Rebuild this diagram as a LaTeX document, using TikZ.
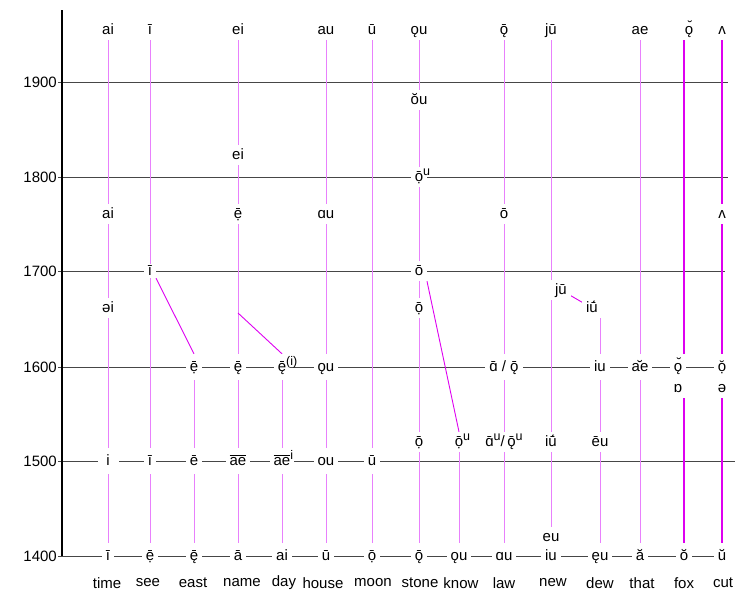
\documentclass[tikz,border=0pt]{standalone}
\usepackage{fontspec}
\setmainfont{Liberation Sans}
\usetikzlibrary{backgrounds}
\definecolor{vlt}{RGB}{232,128,252}
\definecolor{mag}{RGB}{222,0,240}
\definecolor{gridc}{RGB}{70,70,70}
\newcommand\ovl[1]{\ensuremath{\overline{\mbox{#1}}}}
\newcommand\brv[1]{\setbox0\hbox{#1}\rlap{\makebox[\wd0]{˘}}\box0}
\newcommand\supx[1]{\raisebox{5.5pt}{\fontsize{12.5}{13}\selectfont #1}}
\newcommand\sups[1]{\rlap{\supx{#1}}}
\tikzset{
  lab/.style={fill=white, inner xsep=4pt, inner ysep=3pt, text height=11pt, text depth=3pt},
  rl/.style={lab, inner ysep=6pt},
  vl/.style={draw=vlt, line width=1pt},
  vb/.style={draw=mag, line width=1.5pt},
  dg/.style={draw=mag, line width=0.9pt},
  gl/.style={draw=gridc, line width=0.8pt},
  word/.style={inner sep=0pt},
  yr/.style={anchor=east, inner sep=0pt}
}
\begin{document}
\begin{tikzpicture}[x=1pt,y=-1pt,font=\fontsize{15}{18}\selectfont]
\useasboundingbox (0,0) rectangle (756,600);
% years
\node[yr] (y19) at (57,82) {1900};
\node[yr] (y18) at (57,177) {1800};
\node[yr] (y17) at (57,271) {1700};
\node[yr] (y16) at (57,367) {1600};
\node[yr] (y15) at (57,461) {1500};
\node[yr] (y14) at (57,556) {1400};
\coordinate (axT) at (62,10);
\coordinate (axB) at (62,556);
\coordinate (g19s) at (58,82);  \coordinate (g19e) at (728,82);
\coordinate (g18s) at (58,177); \coordinate (g18e) at (728,177);
\coordinate (g17s) at (58,271); \coordinate (g17e) at (725,271);
\coordinate (g16s) at (58,367);
\coordinate (g15s) at (58,461); \coordinate (g15e) at (735,461);
\coordinate (g14s) at (58,556);
% time
\node[lab] (ti0) at (108,30) {ai};
\node[lab] (ti1) at (108,214) {ai};
\node[lab] (ti2) at (108,308) {əi};
\node[rl, minimum width=21pt] (ti15) at (108,461) {i};
\node[rl] (ti14) at (108,556) {ī};
% see
\node[lab] (se0) at (150,30) {ī};
\node[lab, inner ysep=0pt] (se17) at (150,271) {ī};
\node[rl] (se15) at (150,461) {ī};
\node[rl] (se14) at (150,556) {ẹ^^^^0304};
% east
\node[rl] (ea16) at (194,367) {ẹ^^^^0304};
\node[rl] (ea15) at (194,461) {ē};
\node[rl] (ea14) at (194,556) {ę^^^^0304};
% name
\node[lab] (na0) at (238,30) {ei};
\node[lab] (na1) at (238,155) {ei};
\node[lab] (na2) at (238,214) {ẹ^^^^0304};
\node[rl] (na16) at (238,367) {ę^^^^0304};
\node[rl] (na15) at (238,461) {\ovl{ae}};
\node[rl] (na14) at (238,556) {ā};
\coordinate (nmk) at (238,313);
% day
\node[rl] (da16) at (282,367) {ę^^^^0304\sups{(i)}};
\node[rl] (da15) at (282,461) {\ovl{ae}\sups{i}};
\node[rl] (da14) at (282,556) {ai};
% house
\node[lab] (ho0) at (326,30) {au};
\node[lab] (ho1) at (326,214) {ɑu};
\node[rl] (ho16) at (326,367) {ǫu};
\node[rl] (ho15) at (326,461) {ou};
\node[rl] (ho14) at (326,556) {ū};
% moon
\node[lab] (mo0) at (372,30) {ū};
\node[rl] (mo15) at (372,461) {ū};
\node[rl] (mo14) at (372,556) {ọ^^^^0304};
% stone
\node[lab] (st0) at (419,30) {ǫu};
\node[lab] (st1) at (419,100) {ŏu};
\node[lab] (st18) at (419,177) {ọ^^^^0304\sups{u}};
\node[lab] (st17) at (419,271) {ō};
\node[lab] (st2) at (419,308) {ọ^^^^0304};
\node[lab] (st3) at (419,442) {ọ^^^^0304};
\node[rl] (st14) at (419,556) {ǭ};
% know
\node[lab] (kn15) at (459,442) {ọ^^^^0304\sups{u}};
\node[rl] (kn14) at (459,556) {ǫu};
% law
\node[lab] (la0) at (504,30) {ǭ};
\node[lab] (la1) at (504,214) {ō};
\node[rl] (la16) at (504,367) {ɑ^^^^0304 / ǭ};
\node[lab] (la15) at (504,442) {ɑ^^^^0304\supx{u}/\,ǭ\supx{u}};
\node[rl] (la14) at (504,556) {ɑu};
% new
\node[lab] (ne0) at (551,30) {jū};
\node[lab] (ne1) at (561,290) {jū};
\node[lab] (ne15) at (551,442) {iū^^^^0301};
\node[lab] (ne2) at (551,537) {eu};
\node[rl] (ne14) at (551,556) {iu};
% dew
\node[lab] (dw1) at (592,308) {iū^^^^0301};
\node[rl] (dw16) at (600,367) {iu};
\node[lab] (dw15) at (600,442) {ēu};
\node[rl] (dw14) at (600,556) {ęu};
% that
\node[lab] (th0) at (640,30) {ae};
\node[rl] (th16) at (640,367) {\brv{ae}};
\node[rl] (th14) at (640,556) {ă};
% fox
\node[lab] (fo0) at (689,30) {ǫ^^^^0306};
\node[rl] (fo16) at (678,367) {ǫ^^^^0306};
\node[lab] (fo1) at (678,388) {ɒ};
\node[rl] (fo14) at (684,556) {ŏ};
% cut
\node[lab] (cu0) at (722,30) {ʌ};
\node[lab] (cu1) at (722,214) {ʌ};
\node[rl] (cu16) at (722,367) {ọ^^^^0306};
\node[lab] (cu2) at (722,388) {ə};
\node[rl] (cu14) at (722,556) {ŭ};
% words
\node[word] (w1) at (107,583) {time};
\node[word] (w2) at (148,583) {see};
\node[word] (w3) at (193,583) {east};
\node[word] (w4) at (242,583) {name};
\node[word] (w5) at (284,583) {day};
\node[word] (w6) at (323,583) {house};
\node[word] (w7) at (373,583) {moon};
\node[word] (w8) at (420,583) {stone};
\node[word] (w9) at (461,583) {know};
\node[word] (w10) at (504,583) {law};
\node[word] (w11) at (553,583) {new};
\node[word] (w12) at (600,583) {dew};
\node[word] (w13) at (642,583) {that};
\node[word] (w14) at (684,583) {fox};
\node[word] (w15) at (723,583) {cut};
\begin{scope}[on background layer]
  \draw[gl] (g19s) -- (g19e);
  \draw[gl] (g18s) -- (g18e);
  \draw[gl] (g17s) -- (g17e);
  \draw[gl] (g16s) -- (cu16.center);
  \draw[gl] (g15s) -- (g15e);
  \draw[gl] (g14s) -- (cu14.center);
  \draw[line width=1.2pt] (axT) -- (axB);
  % verticals
  \draw[vl] (ti0) -- (ti1); \draw[vl] (ti1) -- (ti2); \draw[vl] (ti2) -- (ti15); \draw[vl] (ti15) -- (ti14);
  \draw[vl] (se0) -- (se17); \draw[vl] (se17) -- (se15); \draw[vl] (se15) -- (se14);
  \draw[vl] (ea16) -- (ea15); \draw[vl] (ea15) -- (ea14);
  \draw[vl] (na0) -- (na1); \draw[vl] (na1) -- (na2); \draw[vl] (na2) -- (na16); \draw[vl] (na16) -- (na15); \draw[vl] (na15) -- (na14);
  \draw[vl] (da16) -- (da15); \draw[vl] (da15) -- (da14);
  \draw[vl] (ho0) -- (ho1); \draw[vl] (ho1) -- (ho16); \draw[vl] (ho16) -- (ho15); \draw[vl] (ho15) -- (ho14);
  \draw[vl] (mo0) -- (mo15); \draw[vl] (mo15) -- (mo14);
  \draw[vl] (st0) -- (st1); \draw[vl] (st1) -- (st18); \draw[vl] (st18) -- (st17); \draw[vl] (st17) -- (st2); \draw[vl] (st2) -- (st3); \draw[vl] (st3) -- (st14);
  \draw[vl] (kn15) -- (kn14);
  \draw[vl] (la0) -- (la1); \draw[vl] (la1) -- (la16); \draw[vl] (la16) -- (la15); \draw[vl] (la15) -- (la14);
  \draw[vl] (ne0) -- (ne0 |- ne1.north); \draw[vl] (ne0 |- ne1.south) -- (ne15); \draw[vl] (ne15) -- (ne2);
  \draw[vl] (dw1.south -| dw16) -- (dw16); \draw[vl] (dw16) -- (dw15); \draw[vl] (dw15) -- (dw14);
  \draw[vl] (th0) -- (th16); \draw[vl] (th16) -- (th14);
  \draw[vb] (fo14 |- fo0.south) -- (fo14 |- fo16.north); \draw[vb] (fo14 |- fo1.south) -- (fo14);
  \draw[vb] (cu0) -- (cu1); \draw[vb] (cu1) -- (cu16); \draw[vb] (cu2) -- (cu14);
  % diagonals
  \draw[dg] ([xshift=6pt]se17.south) -- (ea16.north);
  \draw[dg] (nmk) -- (da16.north);
  \draw[dg] ([xshift=8pt]st17.south) -- (kn15.north);
  \draw[dg] (ne1) -- (dw1);
\end{scope}
\end{tikzpicture}
\end{document}
